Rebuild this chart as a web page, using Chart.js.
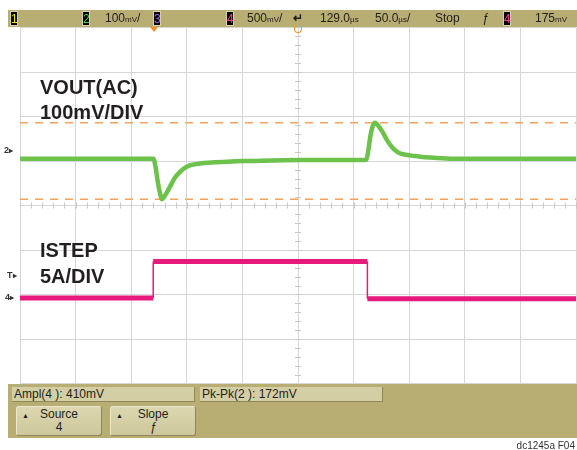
<!DOCTYPE html>
<html><head><meta charset="utf-8">
<script src="https://cdn.jsdelivr.net/npm/chart.js@4/dist/chart.umd.min.js"></script>
<style>
body{margin:0;background:#fff;width:577px;height:450px;overflow:hidden;position:relative;font-family:"Liberation Sans",Arial,sans-serif;}
#c{position:absolute;left:0;top:0;}
.abs{position:absolute;white-space:nowrap;}
.bar{left:8px;top:10px;width:569px;height:17px;background:#b8ad72;}
.t{font-size:12px;color:#1e1e1e;line-height:17px;top:10px;}
.u{font-size:8px;}
.ch{top:11px;width:8px;height:15px;background:#000;font-size:12px;line-height:15px;text-align:center;border:1px solid #d8d2a8;box-sizing:border-box;}
.lbl{font-weight:bold;font-size:20px;line-height:20px;color:#231f20;}
.panel{left:8px;top:384px;width:569px;height:54px;background:#b8ad72;}
.box{height:15px;background:#d3cea3;border-right:1px solid #8f8758;border-bottom:1px solid #8f8758;box-sizing:border-box;font-size:12px;line-height:14px;color:#1e1e1e;padding-left:2px;}
.btn{top:406px;width:86px;height:30px;background:linear-gradient(#dcd7b0,#cdc79b);border:1px solid;border-color:#ece8cf #8f8758 #8f8758 #ece8cf;box-sizing:border-box;border-radius:3px;font-size:12px;color:#1e1e1e;text-align:center;line-height:13px;padding-top:1px;}
.mk{font-size:9px;font-weight:bold;color:#333;line-height:10px;}
</style></head>
<body>
<canvas id="c" width="577" height="450"></canvas>

<div class="abs bar"></div>
<div class="abs ch" style="left:10px;color:#f2e600">1</div>
<div class="abs ch" style="left:82px;color:#3fd43f">2</div>
<div class="abs t" style="left:105px">100<span class="u">mV</span>/</div>
<div class="abs ch" style="left:153px;color:#9a6cf0">3</div>
<div class="abs ch" style="left:226px;color:#ff3a9a">4</div>
<div class="abs t" style="left:247px">500<span class="u">mV</span>/</div>
<div class="abs t" style="left:293px;font-weight:bold">&#x21B5;</div>
<div class="abs t" style="left:320px">129.0<span class="u">µs</span></div>
<div class="abs t" style="left:375px">50.0<span class="u">µs</span>/</div>
<div class="abs t" style="left:435px">Stop</div>
<div class="abs t" style="left:482px;font-style:italic">ƒ</div>
<div class="abs ch" style="left:503px;color:#ff3a9a">4</div>
<div class="abs t" style="left:535px">175<span class="u">mV</span></div>

<div class="abs" style="left:150px;top:27px;width:0;height:0;border-left:4px solid transparent;border-right:4px solid transparent;border-top:5px solid #f0902a"></div>
<div class="abs" style="left:294px;top:27px;width:6px;height:5px;border:1px solid #f0902a;border-top:none;border-radius:0 0 4px 4px"></div>

<div class="abs lbl" style="left:40px;top:77px">VOUT(AC)</div>
<div class="abs lbl" style="left:40px;top:102px">100mV/DIV</div>
<div class="abs lbl" style="left:40px;top:240px">ISTEP</div>
<div class="abs lbl" style="left:40px;top:266px">5A/DIV</div>

<div class="abs mk" style="left:4px;top:145px">2<span style="font-size:8px">&#x25B8;</span></div>
<div class="abs mk" style="left:7px;top:270px">T<span style="font-size:8px">&#x25B8;</span></div>
<div class="abs mk" style="left:5px;top:292px">4<span style="font-size:8px">&#x25B8;</span></div>

<div class="abs panel"></div>
<div class="abs box" style="left:12px;top:387px;width:183px">Ampl(4 ): 410mV</div>
<div class="abs box" style="left:200px;top:387px;width:183px">Pk-Pk(2 ): 172mV</div>
<div class="abs btn" style="left:16px"><span style="position:absolute;left:5px;top:2px;font-size:7px">&#x25B2;</span>Source<br>4</div>
<div class="abs btn" style="left:110px"><span style="position:absolute;left:5px;top:2px;font-size:7px">&#x25B2;</span>Slope<br><i>ƒ</i></div>
<div class="abs" style="right:2px;top:440px;font-size:10px;color:#333">dc1245a F04</div>

<script>
// ---- data (time in µs from left edge of screen, values in mV) ----
const voutTime = [0,120,122,123.8,125.7,127.5,131,135,139,143.6,148,152.6,161,175,190,206,251,305,311.5,313.3,315,317,319,321,325.6,330,334.6,338,341,347,355,362,375,392,500];
const voutMv   = [0,0,-20,-50,-75,-91,-80,-62,-44,-30,-21,-15,-11,-8,-6,-5,-3,-3,-2,20,50,72,81,78,62,42,26,18,13,9,6,4,2,0,0];
const istepTime = [0,119.8,119.8,312.4,312.4,500];
const istepMv   = [0,0,410,410,-10,-10];
const cursorMv  = [81,-91];           // Pk-Pk cursors on channel 2
const ch2Scale = 100, ch4Scale = 500;  // mV/div
const ch2Center = -105, ch4Center = 1039; // value at screen centre (mV)

const pts = (xs, ys) => xs.map((x,i)=>({x, y: ys[i]}));

const minorTicks = {
  id:'minorTicks',
  beforeDatasetsDraw(chart){
    const {ctx, scales:{x, yg}} = chart;
    const cx = x.getPixelForValue(250), cy = yg.getPixelForValue(0);
    ctx.save();
    ctx.strokeStyle = '#c8c8c8'; ctx.lineWidth = 1;
    ctx.beginPath();
    for (let t = 0; t <= 500; t += 10){
      const px = Math.round(x.getPixelForValue(t)) + 0.5;
      ctx.moveTo(px, cy - 3); ctx.lineTo(px, cy + 3);
    }
    for (let d = -4; d <= 4.001; d += 0.2){
      const py = Math.round(yg.getPixelForValue(d)) + 0.5;
      ctx.moveTo(cx - 3, py); ctx.lineTo(cx + 3, py);
    }
    ctx.stroke();
    ctx.restore();
  }
};

new Chart(document.getElementById('c'), {
  type:'line',
  data:{datasets:[
    {data:pts(voutTime, voutMv), yAxisID:'y2', borderColor:'#6cc24a', borderWidth:4.5, pointRadius:0, cubicInterpolationMode:'monotone', order:0},
    {data:pts(istepTime, istepMv), yAxisID:'y4', borderColor:'#e8197c', borderWidth:5, pointRadius:0, order:0,
      segment:{borderWidth: c => c.p0.parsed.x === c.p1.parsed.x ? 1.5 : 5}},
    {data:[{x:0,y:cursorMv[0]},{x:500,y:cursorMv[0]}], yAxisID:'y2', borderColor:'#f5a25a', borderWidth:1.5, borderDash:[8,7], pointRadius:0, order:2},
    {data:[{x:0,y:cursorMv[1]},{x:500,y:cursorMv[1]}], yAxisID:'y2', borderColor:'#f5a25a', borderWidth:1.5, borderDash:[8,7], pointRadius:0, order:2}
  ]},
  options:{
    responsive:false, animation:false, devicePixelRatio:1,
    layout:{padding:{left:20, top:27.5, right:1, bottom:66.5}},
    plugins:{legend:{display:false}, tooltip:{enabled:false}},
    scales:{
      x:{type:'linear', min:0, max:500, ticks:{display:false, stepSize:50}, grid:{color:'#d6d6d6', drawTicks:false}, border:{display:false}},
      yg:{type:'linear', position:'left', min:-4, max:4, ticks:{display:false, stepSize:1}, grid:{color:'#d6d6d6', drawTicks:false}, border:{display:false}},
      y2:{type:'linear', display:false, min:ch2Center - 4*ch2Scale, max:ch2Center + 4*ch2Scale},
      y4:{type:'linear', display:false, min:ch4Center - 4*ch4Scale, max:ch4Center + 4*ch4Scale}
    }
  },
  plugins:[minorTicks]
});
</script>
</body></html>
